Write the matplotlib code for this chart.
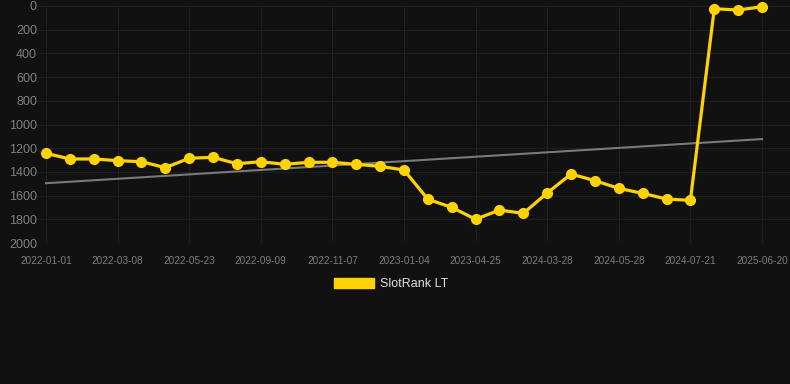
import numpy as np
import matplotlib
matplotlib.use("Agg")
import matplotlib.pyplot as plt
from matplotlib.patches import Patch

plt.rcParams['font.family'] = ['Liberation Sans', 'DejaVu Sans']

# SlotRank LT over time (lower = better, axis inverted)
values = [1243, 1291, 1291, 1305, 1314, 1364, 1285, 1277, 1331, 1314,
          1336, 1319, 1319, 1336, 1353, 1384, 1631, 1699, 1800, 1722,
          1750, 1578, 1418, 1474, 1539, 1581, 1629, 1640, 23, 34, 6]
tick_labels = ['2022-01-01', '2022-03-08', '2022-05-23', '2022-09-09',
               '2022-11-07', '2023-01-04', '2023-04-25', '2024-03-28',
               '2024-05-28', '2024-07-21', '2025-06-20']
series_name = 'SlotRank LT'

bg = '#111111'
gold = '#FFD300'

x = np.arange(len(values))
y = np.array(values, dtype=float)

fig = plt.figure(figsize=(7.9, 3.84), dpi=100, facecolor=bg)
W, H = 790, 384
ax = fig.add_axes([37 / W, 1 - 243 / H, (790 - 37) / W, (243 - 6) / H])
ax.set_facecolor(bg)

# trend line (least squares fit)
k, b = np.polyfit(x, y, 1)
ax.plot([x[0], x[-1]], [k * x[0] + b, k * x[-1] + b], color='#7a7a7a', lw=1.5, zorder=2)

ax.plot(x, y, color=gold, lw=2.3, marker='o', markersize=7, zorder=3, clip_on=False)

px_per_idx = (762 - 46) / 30
ax.set_xlim(-(46 - 37) / px_per_idx, 30 + (790 - 762) / px_per_idx)
ax.set_ylim(2000, 0)
ax.set_yticks(np.arange(0, 2001, 200))
ax.set_xticks(x[::3])
ax.set_xticklabels(tick_labels)

ax.grid(True, color='#1e1e1e', lw=0.8)
ax.set_axisbelow(True)
for s in ax.spines.values():
    s.set_visible(False)
ax.tick_params(axis='y', length=0, pad=0, labelsize=9, labelcolor='#808080')
ax.tick_params(axis='x', length=0, pad=9, labelsize=7.2, labelcolor='#7c7c7c')

fig.legend(handles=[Patch(facecolor=gold, edgecolor=gold, label=series_name)],
           loc='center', bbox_to_anchor=(0.5 - 4 / W, 1 - 284 / H), frameon=False,
           fontsize=9, labelcolor='#dddddd', handlelength=3.2, handleheight=0.9,
           handletextpad=0.5)

fig.savefig('out.png', dpi=100, facecolor=bg)
